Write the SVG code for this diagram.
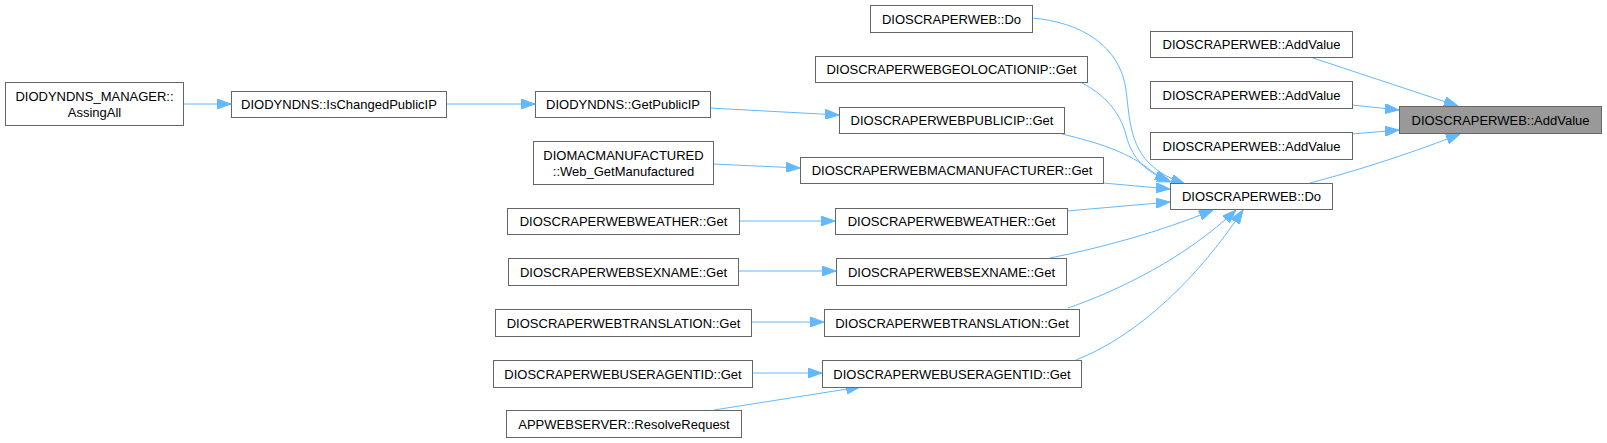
<svg xmlns="http://www.w3.org/2000/svg" width="1607" height="443" viewBox="0 0 1607 443">
<style>
.node rect{fill:#ffffff;stroke:#666666;stroke-width:1}
.node.main rect{fill:#999999}
.node text{font-family:"Liberation Sans",Arial,sans-serif;font-size:13px;fill:#000000;text-anchor:middle}
.edge{fill:none;stroke:#63b8ff;stroke-width:1;marker-end:url(#arr)}
</style>
<defs>
<marker id="arr" viewBox="0 0 14 10" refX="14" refY="5" markerWidth="14" markerHeight="10" markerUnits="userSpaceOnUse" orient="auto">
<path d="M0,0 L14,5 L0,10 z" fill="#63b8ff" stroke="#63b8ff" stroke-width="1"/>
</marker>
</defs>
<rect width="1607" height="443" fill="#ffffff"/>
<g id="connectors">
<path class="edge" d="M1310,57 L1458,106"/>
<path class="edge" d="M1352,105 L1399,110"/>
<path class="edge" d="M1352,134 L1399,130"/>
<path class="edge" d="M1310,183 C1360,170 1420,150 1460,134"/>
<path class="edge" d="M1032,18 C1080,22 1120,45 1126,90 C1131,130 1130,165 1185,184"/>
<path class="edge" d="M1082,83 C1105,95 1120,112 1126,135 C1132,158 1145,172 1171,182"/>
<path class="edge" d="M1062,134 C1100,143 1125,152 1145,166 C1152,172 1158,176 1169,181"/>
<path class="edge" d="M1103,183 L1170,189"/>
<path class="edge" d="M1067,211 L1170,202"/>
<path class="edge" d="M1050,258 C1100,248 1160,232 1213,210"/>
<path class="edge" d="M1068,308 C1120,290 1185,258 1236,210"/>
<path class="edge" d="M1076,360 C1140,335 1200,275 1243,210"/>
<path class="edge" d="M183,104 L231,104"/>
<path class="edge" d="M446,104 L535,104"/>
<path class="edge" d="M710,108 L839,115"/>
<path class="edge" d="M713,164 L800,168"/>
<path class="edge" d="M739,221 L835,221"/>
<path class="edge" d="M738,271 L836,271"/>
<path class="edge" d="M751,322 L824,322"/>
<path class="edge" d="M752,373 L822,373"/>
<path class="edge" d="M714,410 L860,387"/>
</g>
<g id="n_main" class="node main"><rect x="1399.5" y="106.5" width="202" height="27"/><text x="1500.5" y="124.5">DIOSCRAPERWEB::AddValue</text></g>
<g id="n_av1" class="node"><rect x="1150.5" y="31.5" width="202" height="26"/><text x="1251.5" y="49">DIOSCRAPERWEB::AddValue</text></g>
<g id="n_av2" class="node"><rect x="1150.5" y="81.5" width="202" height="27"/><text x="1251.5" y="99.5">DIOSCRAPERWEB::AddValue</text></g>
<g id="n_av3" class="node"><rect x="1150.5" y="132.5" width="202" height="27"/><text x="1251.5" y="150.5">DIOSCRAPERWEB::AddValue</text></g>
<g id="n_do" class="node"><rect x="1170.5" y="183.5" width="162" height="26"/><text x="1251.5" y="201">DIOSCRAPERWEB::Do</text></g>
<g id="n_do_top" class="node"><rect x="870.5" y="5.5" width="162" height="27"/><text x="951.5" y="23.5">DIOSCRAPERWEB::Do</text></g>
<g id="n_geo" class="node"><rect x="815.5" y="56.5" width="272" height="26"/><text x="951.5" y="74">DIOSCRAPERWEBGEOLOCATIONIP::Get</text></g>
<g id="n_pubip" class="node"><rect x="839.5" y="107.5" width="225" height="26"/><text x="952" y="125">DIOSCRAPERWEBPUBLICIP::Get</text></g>
<g id="n_mac" class="node"><rect x="800.5" y="157.5" width="303" height="26"/><text x="952" y="175">DIOSCRAPERWEBMACMANUFACTURER::Get</text></g>
<g id="n_weather" class="node"><rect x="835.5" y="208.5" width="232" height="26"/><text x="951.5" y="226">DIOSCRAPERWEBWEATHER::Get</text></g>
<g id="n_sex" class="node"><rect x="836.5" y="258.5" width="230" height="27"/><text x="951.5" y="276.5">DIOSCRAPERWEBSEXNAME::Get</text></g>
<g id="n_trans" class="node"><rect x="824.5" y="309.5" width="255" height="27"/><text x="952" y="327.5">DIOSCRAPERWEBTRANSLATION::Get</text></g>
<g id="n_ua" class="node"><rect x="822.5" y="360.5" width="259" height="27"/><text x="952" y="378.5">DIOSCRAPERWEBUSERAGENTID::Get</text></g>
<g id="n_getpub" class="node"><rect x="535.5" y="91.5" width="175" height="26"/><text x="623" y="109">DIODYNDNS::GetPublicIP</text></g>
<g id="n_macf" class="node"><rect x="533.5" y="141.5" width="180" height="43"/><text x="623.5" y="160">DIOMACMANUFACTURED</text><text x="623.5" y="176">::Web_GetManufactured</text></g>
<g id="n_weather_l" class="node"><rect x="507.5" y="208.5" width="232" height="26"/><text x="623.5" y="226">DIOSCRAPERWEBWEATHER::Get</text></g>
<g id="n_sex_l" class="node"><rect x="508.5" y="258.5" width="230" height="27"/><text x="623.5" y="276.5">DIOSCRAPERWEBSEXNAME::Get</text></g>
<g id="n_trans_l" class="node"><rect x="495.5" y="309.5" width="256" height="27"/><text x="623.5" y="327.5">DIOSCRAPERWEBTRANSLATION::Get</text></g>
<g id="n_ua_l" class="node"><rect x="493.5" y="360.5" width="259" height="27"/><text x="623" y="378.5">DIOSCRAPERWEBUSERAGENTID::Get</text></g>
<g id="n_resolve" class="node"><rect x="506.5" y="410.5" width="235" height="27"/><text x="624" y="428.5">APPWEBSERVER::ResolveRequest</text></g>
<g id="n_ischanged" class="node"><rect x="231.5" y="91.5" width="215" height="26"/><text x="339" y="109">DIODYNDNS::IsChangedPublicIP</text></g>
<g id="n_assing" class="node"><rect x="5.5" y="82.5" width="178" height="43"/><text x="94.5" y="101">DIODYNDNS_MANAGER::</text><text x="94.5" y="117">AssingAll</text></g>
</svg>
